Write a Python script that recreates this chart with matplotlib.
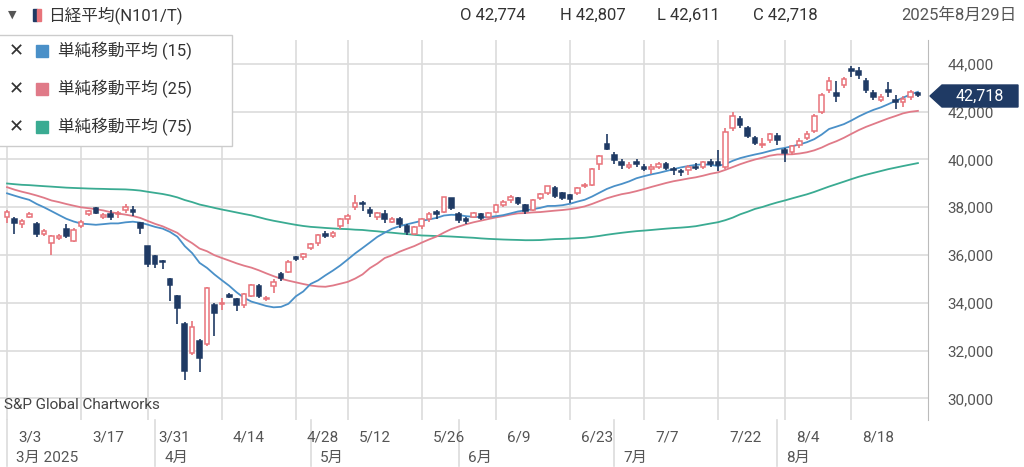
import numpy as np
import pandas as pd
import matplotlib
matplotlib.use("Agg")
import matplotlib.pyplot as plt
from matplotlib.patches import Rectangle, Polygon

plt.rcParams["font.family"] = ["Roboto", "Noto Sans CJK JP"]

holidays = ["2025-03-20", "2025-04-29", "2025-05-05", "2025-05-06", "2025-07-21", "2025-08-11"]
dates = [d for d in pd.bdate_range("2025-03-03", "2025-08-29") if d.strftime("%Y-%m-%d") not in holidays]

prior_closes = [39533, 39381,
    38721, 38536, 38642, 38220, 38414, 38352, 38026, 38283, 38780, 38442, 38134, 38349, 38208,
    38513, 39248, 39276, 39395, 39091, 39160, 39367, 39849, 39470, 39457, 39364, 39701, 38982, 39081, 38813, 38701, 39037, 39130, 40168, 40281, 39894,
    39307, 40083, 39981, 39605, 39190, 38474, 38572, 38444, 38903, 38451, 39902, 39027, 40069, 39646, 39931, 39565, 39565, 39016, 39414, 39572,
    38520, 38798, 38831, 39066, 38787, 38801, 38963, 39461, 39149, 39174, 39240, 39164, 38776, 38678, 38237, 38142, 37256, 37155]

closes = [37785,37331,37418,37705,36887,37028,36793,36819,36790,37053,37396,37845,37751,37677,37608,37780,38027,37799,37120,35617,
    35624,35725,34736,33781,31136,33012,31714,34609,33586,33982,34267,33920,34377,34730,34280,34220,34868,35039,35705,35839,36045,
    36452,36830,36780,36928,37503,37644,38183,38128,37755,37753,37498,37529,37299,36985,37160,37531,37724,37722,38432,37965,
    37470,37446,37747,37554,37741,38088,38211,38421,38173,37834,38311,38536,38885,38488,38403,38354,38790,38942,39584,40150,40450,
    39986,39762,39785,39810,39587,39688,39821,39646,39569,39459,39678,39663,39901,39819,39774,41171,41826,41456,40998,40674,40654,41069,
    40799,40290,40549,40794,41059,41820,42718,43274,42649,43378,43714,43546,42888,42610,42633,42807,42394,42520,42828,42718]
opens = [37600,37500,37300,37600,37300,36900,36500,36700,37100,36600,37200,37700,37950,37600,37700,37700,37900,37900,37350,36400,
    35950,35750,35000,34300,33100,31900,32400,32300,33900,33950,34350,34150,33900,34300,34700,34150,34700,35200,35300,35900,35900,
    36300,36500,36900,36800,37200,37500,38000,38200,37900,37600,37700,37400,37500,37200,36900,37200,37500,37800,37800,38400,
    37700,37500,37600,37700,37600,37800,38100,38300,38400,38100,37900,38400,38600,38800,38600,38500,38600,38900,38950,39800,40650,
    40200,39900,39700,39900,39700,39600,39700,39800,39600,39500,39550,39700,39700,39900,39900,39700,41300,41700,41300,40900,40600,40800,
    41000,40400,40300,40600,40900,41200,42000,42900,42800,43100,43800,43700,43300,42800,42500,42900,42500,42400,42600,42774]
highs = [37900,37600,37500,37800,37400,37100,36850,36900,37300,37150,37450,37900,38000,37750,37900,37850,38150,38050,37400,36400,
    36000,35800,35050,34350,33200,33250,32500,34650,34000,34200,34400,34200,34400,34800,34800,34300,35000,35300,35800,35950,36100,
    36500,36900,37000,37000,37550,37700,38500,38250,38000,37800,37900,37600,37600,37300,37200,37550,37800,37900,38450,38400,
    37800,37600,37800,37750,37800,38150,38300,38500,38450,38150,38350,38600,38900,38900,38650,38550,38850,39000,39650,40200,41050,
    40300,40000,39900,40000,39800,39800,39900,39900,39700,39600,39750,39850,39950,40000,40400,41300,42000,41800,41400,41000,40900,41100,
    41100,40500,40600,40900,41200,41900,42800,43450,43300,43450,43900,43850,43400,42900,42750,43250,42700,42650,42900,42807]
lows = [37350,36900,37150,37550,36750,36800,36000,36650,36700,36550,37150,37650,37700,37500,37450,37550,37750,37650,36900,35500,
    35450,35400,34100,33100,30792,31800,31100,32200,32600,33700,34200,33650,33800,34250,34200,34100,34400,34900,35250,35750,35800,
    36200,36400,36700,36700,37100,37300,37900,37850,37600,37450,37350,37350,37150,36850,36850,37100,37400,37500,37750,37900,
    37350,37300,37550,37450,37550,37750,38000,38200,38100,37700,37850,38300,38500,38400,38300,38200,38500,38800,38900,39550,40400,
    39800,39600,39600,39700,39500,39400,39600,39550,39350,39300,39350,39550,39600,39700,39500,39600,41200,41300,40900,40600,40500,40700,
    40600,39900,40200,40500,40800,41100,41900,42800,42400,43000,43450,43350,42800,42500,42400,42600,42100,42200,42500,42611]

tick_dates = ["3/3","3/17","3/31","4/14","4/28","5/12","5/26","6/9","6/23","7/7","7/22","8/4","8/18"]
month_labels = ["3月 2025","4月","5月","6月","7月","8月"]
y_ticks = [30000,32000,34000,36000,38000,40000,42000,44000]

UP = "#e8737a"; DOWN = "#1f3a64"
C15 = "#4a90c8"; C25 = "#e07a88"; C75 = "#3aab92"

allc = pd.Series(prior_closes + closes)
n = len(closes); p = len(prior_closes)
ma = {w: allc.rolling(w).mean().values[p:] for w in (15, 25, 75)}

fig = plt.figure(figsize=(10.24, 4.67), dpi=100)
W, H = 1024, 467
ax = fig.add_axes([0, (H-420)/H, 928/W, (420-40)/H])
x = np.arange(n)
ppd = 7.35
ax.set_xlim(-7/ppd, (n-1) + 10/ppd)
ax.set_ylim(29100, 45000)

for w, c in ((75, C75), (25, C25), (15, C15)):
    ax.plot(x, ma[w], color=c, lw=1.3, zorder=2)

bw = 0.62
for i in range(n):
    o, h, l, c = opens[i], highs[i], lows[i], closes[i]
    col = UP if c >= o else DOWN
    ax.vlines(i, l, h, color=col, lw=1.2, zorder=3)
    lo, hi = min(o, c), max(o, c)
    if hi - lo < 40: hi = lo + 40
    ax.add_patch(Rectangle((i-bw/2, lo), bw, hi-lo, facecolor="white" if c >= o else DOWN,
                           edgecolor=col, lw=1.1, zorder=4))

dstr = [f"{d.month}/{d.day}" for d in dates]
tick_idx = [dstr.index(t) for t in tick_dates]
ax.set_xticks(tick_idx)
ax.set_xticklabels([])
ax.set_yticks(y_ticks)
ax.grid(True, color="#dcdcdc", lw=1.2)
ax.tick_params(length=0)
ax.yaxis.tick_right()
ax.set_yticklabels([f"{v:,}" for v in y_ticks], color="#555555", fontsize=11)
ax.tick_params(axis="y", pad=14)
for s in ("top", "left", "bottom"):
    ax.spines[s].set_visible(False)
ax.spines["right"].set_color("#bbbbbb")

for ti, t in zip(tick_idx, tick_dates):
    ax.annotate(t, (ti, 0), xycoords=("data", "axes fraction"), xytext=(11, -17),
                textcoords="offset pixels", ha="left", va="center", fontsize=11, color="#555555",
                annotation_clip=False)
months = [3, 4, 5, 6, 7, 8]
for m, lab in zip(months, month_labels):
    mi = next(i for i, d in enumerate(dates) if d.month == m)
    ax.annotate(lab, (mi, 0), xycoords=("data", "axes fraction"), xytext=(9, -38),
                textcoords="offset pixels", ha="left", va="center", fontsize=11, color="#555555",
                annotation_clip=False)
    ax.plot([mi, mi], [0, -0.12], transform=ax.get_xaxis_transform(), color="#dcdcdc", lw=1.2, clip_on=False)

ax.text(4/928, 0.03, "S&P Global Chartworks", transform=ax.transAxes, fontsize=11, color="#444444")

# header
fig.text(8/W, 1-15/H, "▼", fontsize=8, color="#555555", va="center", family="DejaVu Sans")
fig.patches.append(Rectangle((33/W, 1-21/H), 4/W, 12/H, transform=fig.transFigure, color=DOWN))
fig.patches.append(Rectangle((37/W, 1-21/H), 4/W, 12/H, transform=fig.transFigure, color=UP))
fig.text(48/W, 1-15/H, "日経平均(N101/T)", fontsize=12, color="#333333", va="center")
fig.text(460/W, 1-15/H, "O 42,774", fontsize=12, color="#333333", va="center")
fig.text(560/W, 1-15/H, "H 42,807", fontsize=12, color="#333333", va="center")
fig.text(657/W, 1-15/H, "L 42,611", fontsize=12, color="#333333", va="center")
fig.text(753/W, 1-15/H, "C 42,718", fontsize=12, color="#333333", va="center")
fig.text(1016/W, 1-15/H, "2025年8月29日", fontsize=12, color="#555555", va="center", ha="right")

# legend box
fig.patches.append(Rectangle((-2/W, 1-146/H), 234/W, 111/H, transform=fig.transFigure,
                             facecolor="white", edgecolor="#cccccc", lw=1, zorder=10))
for k, (lab, c) in enumerate([("単純移動平均 (15)", C15), ("単純移動平均 (25)", C25), ("単純移動平均 (75)", C75)]):
    yy = 1 - (51 + 38*k)/H
    fig.text(9/W, yy, "✕", fontsize=13, color="#333333", va="center", zorder=11, family="DejaVu Sans")
    fig.patches.append(Rectangle((36/W, yy-6/H), 12/W, 12/H, transform=fig.transFigure, color=c, zorder=11))
    fig.text(58/W, yy, lab, fontsize=12, color="#333333", va="center", zorder=11)

# price tag
yc = 1 - 96/H
fig.patches.append(Polygon([(930/W, yc), (942/W, yc+11/H), (1018/W, yc+11/H), (1018/W, yc-11/H), (942/W, yc-11/H)],
                           closed=True, transform=fig.transFigure, color=DOWN, zorder=10))
fig.text(980/W, yc, "42,718", fontsize=11.5, color="white", va="center", ha="center", zorder=11)

fig.savefig("out.png", dpi=100)
